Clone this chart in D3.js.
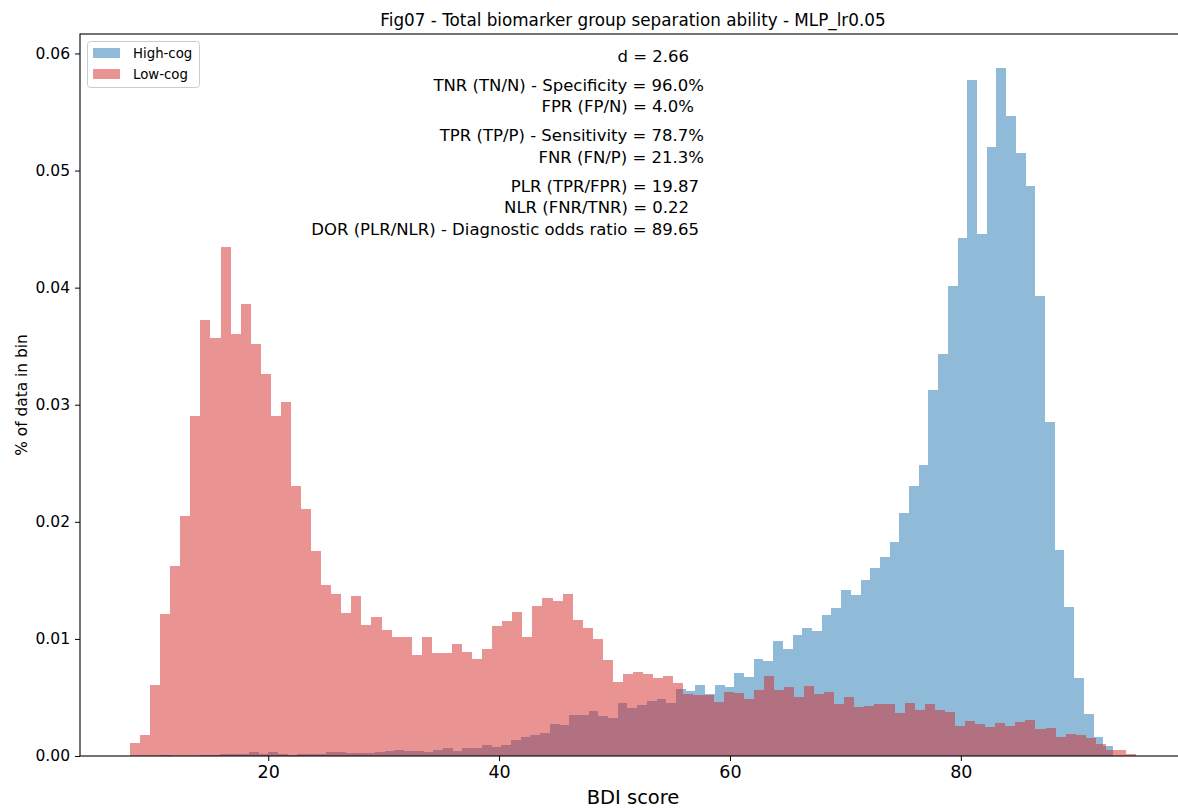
<!DOCTYPE html>
<html><head><meta charset="utf-8">
<script src="https://cdn.jsdelivr.net/npm/d3@7"></script>
<style>body{margin:0;background:#fff}svg{display:block;font-family:"DejaVu Sans",sans-serif}</style>
</head><body><svg id="c" width="1178" height="808"></svg>
<script>
// ---- data ----
const seriesNames = ["High-cog", "Low-cog"];
const highCogRange = [9.066, 93.18];   // histogram bin range (BDI score)
const lowCogRange = [8.027, 95.18];
const highCogValues = [0,0,0.0001,0,0,0,0.0001,0.0001,0.00015,0.00015,
 0.00015,0.0003,0.00015,0.0003,0.00015,0.0001,0.00015,0.00015,0.00015,0.0003,
 0.0003,0.00023,0.00023,0.00023,0.0003,0.0004,0.00048,0.0004,0.0004,0.0003,
 0.00048,0.00066,0.0004,0.00066,0.00066,0.0009,0.00074,0.0009,0.00134,0.0016,
 0.00178,0.00195,0.00272,0.00264,0.0035,0.0035,0.00384,0.0034,0.00323,0.00452,
 0.0041,0.00436,0.0047,0.00487,0.00453,0.00573,0.00556,0.00607,0.0053,0.00607,
 0.0059,0.00712,0.00675,0.00832,0.00809,0.00986,0.00917,0.01035,0.01094,0.01071,
 0.01205,0.01265,0.01419,0.01376,0.01504,0.01607,0.01701,0.01829,0.02071,0.02302,
 0.02481,0.03125,0.03437,0.0401,0.04423,0.05774,0.04458,0.05204,0.05872,0.05464,
 0.05146,0.04872,0.03931,0.02856,0.01758,0.01271,0.00667,0.00361,0.00165,0.00086];
const lowCogValues = [0.0011,0.0018,0.0061,0.0121,0.0162,0.0205,0.0290,0.0372,0.0357,0.0435,
 0.0360,0.0386,0.0352,0.0326,0.0290,0.0302,0.0231,0.0211,0.0175,0.0146,
 0.0138,0.0122,0.0137,0.0112,0.0119,0.0108,0.0102,0.0102,0.0086,0.0102,
 0.0088,0.0088,0.0096,0.0089,0.0083,0.0091,0.0111,0.0115,0.0123,0.0102,
 0.0128,0.0135,0.0132,0.0138,0.0116,0.0109,0.0100,0.0082,0.0063,0.0070,
 0.0072,0.0070,0.0067,0.0068,0.0062,0.0053,0.0052,0.0052,0.0046,0.0055,
 0.0054,0.0049,0.0056,0.0068,0.0056,0.0059,0.0050,0.0060,0.0053,0.0055,
 0.0044,0.0050,0.0042,0.0043,0.0044,0.0044,0.0037,0.0045,0.0039,0.0044,
 0.0039,0.0038,0.0026,0.0030,0.0027,0.0025,0.0028,0.0026,0.0029,0.0031,
 0.0023,0.0024,0.0016,0.0019,0.0018,0.0015,0.0010,0.0005,0.0005,0.0002];
const xTicks = [20, 40, 60, 80];
const yTicks = [0, 0.01, 0.02, 0.03, 0.04, 0.05, 0.06];
const titleText = "Fig07 - Total biomarker group separation ability - MLP_lr0.05";
const xLabel = "BDI score";
const yLabel = "% of data in bin";
const statLines = ["d = 2.66",
 "TNR (TN/N) - Specificity = 96.0%", "FPR (FP/N) = 4.0%",
 "TPR (TP/P) - Sensitivity = 78.7%", "FNR (FN/P) = 21.3%",
 "PLR (TPR/FPR) = 19.87", "NLR (FNR/TNR) = 0.22",
 "DOR (PLR/NLR) - Diagnostic odds ratio = 89.65"];

// ---- drawing ----
const svg = d3.select("#c");
const L = 80, R = 1186, T = 34, B = 756;
const x = d3.scaleLinear().domain([3.695, 99.505]).range([L, R]);
const y = d3.scaleLinear().domain([0, 0.06166]).range([B, T]);
const colors = ["#1f77b4", "#d62728"];

function steps(range, vals) {
  const w = (range[1] - range[0]) / vals.length;
  const pts = vals.map((v, i) => ({bx: range[0] + i * w, v}));
  pts.push({bx: range[1], v: vals[vals.length - 1]});
  return pts;
}
const series = [steps(highCogRange, highCogValues), steps(lowCogRange, lowCogValues)];
const area = d3.area().curve(d3.curveStepAfter)
  .x(d => x(d.bx)).y0(B).y1(d => y(d.v));

series.forEach((s, k) => {
  svg.append("path").attr("d", area(s))
    .attr("fill", colors[k]).attr("fill-opacity", 0.5).attr("shape-rendering", "crispEdges");
});

// spines
svg.append("rect").attr("x", L).attr("y", T).attr("width", R - L).attr("height", B - T)
  .attr("fill", "none").attr("stroke", "#000").attr("stroke-width", 1.1);

// axes
const xa = svg.append("g").attr("transform", `translate(0,${B})`)
  .call(d3.axisBottom(x).tickValues(xTicks).tickFormat(d3.format("d")).tickSize(5).tickPadding(5));
xa.select(".domain").remove();
xa.selectAll("text").attr("font-size", 17.5).attr("font-family", "DejaVu Sans").attr("fill", "#000");
const ya = svg.append("g").attr("transform", `translate(${L},0)`)
  .call(d3.axisLeft(y).tickValues(yTicks).tickFormat(d3.format(".2f")).tickSize(5).tickPadding(5));
ya.select(".domain").remove();
ya.selectAll("text").attr("font-size", 15.5).attr("font-family", "DejaVu Sans").attr("fill", "#000");

svg.append("text").attr("x", (L + R) / 2).attr("y", 26).attr("text-anchor", "middle")
  .attr("font-size", 16.8).text(titleText);
svg.append("text").attr("x", 633).attr("y", 804).attr("text-anchor", "middle")
  .attr("font-size", 19.5).text(xLabel);
svg.append("text").attr("transform", "translate(27,395) rotate(-90)").attr("text-anchor", "middle")
  .attr("font-size", 15.4).text(yLabel);

// stats annotation
const statPos = [[689, 62], [704, 91], [694, 112], [704, 141], [704, 163], [699, 192], [689, 213], [699, 235]];
statLines.forEach((t, i) => {
  svg.append("text").attr("x", statPos[i][0]).attr("y", statPos[i][1]).attr("text-anchor", "end")
    .attr("font-size", 16.5).text(t);
});

// legend
const lg = svg.append("g");
lg.append("rect").attr("x", 87.5).attr("y", 41.5).attr("width", 112).attr("height", 46).attr("rx", 3)
  .attr("fill", "#fff").attr("fill-opacity", 0.8).attr("stroke", "#cccccc");
seriesNames.forEach((n, i) => {
  lg.append("rect").attr("x", 93).attr("y", 48 + i * 21).attr("width", 27).attr("height", 10)
    .attr("fill", colors[i]).attr("fill-opacity", 0.5);
  lg.append("text").attr("x", 133).attr("y", 58 + i * 21).attr("font-size", 13.3).text(n);
});
</script></body></html>
